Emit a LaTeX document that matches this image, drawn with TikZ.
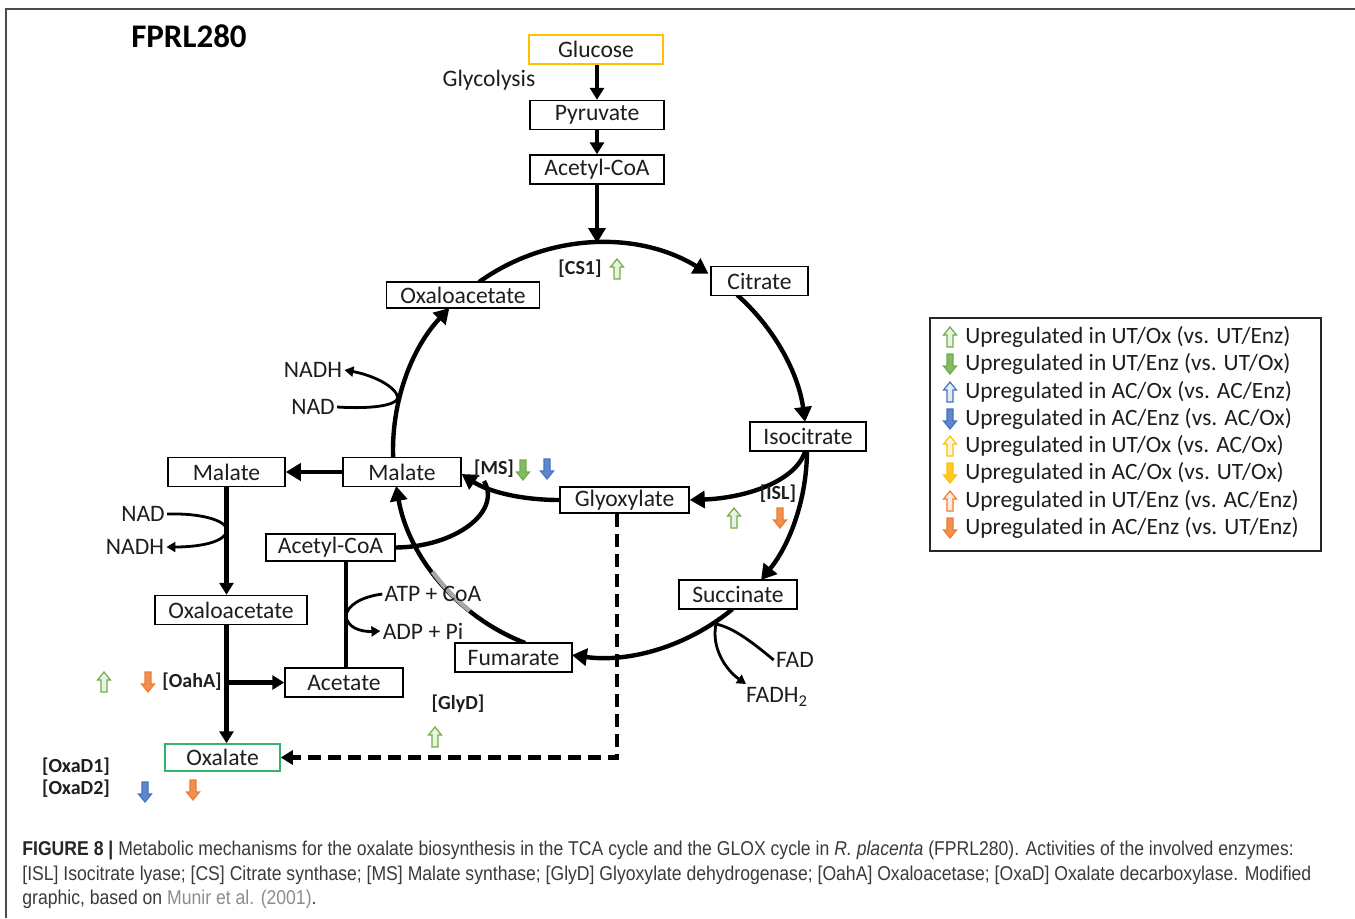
\documentclass[tikz,border=0pt]{standalone}
\usepackage{fontspec}
\setmainfont{Carlito}
\newfontfamily\capfont[FakeStretch=0.88]{Liberation Sans}
\usetikzlibrary{arrows.meta,calc}
\definecolor{ogreen}{HTML}{70AD47}
\definecolor{oblue}{HTML}{4472C4}
\definecolor{ogold}{HTML}{FFC000}
\definecolor{oorange}{HTML}{ED7D31}
\definecolor{oxgreen}{HTML}{33B36B}
\definecolor{txt}{HTML}{1E1E1E}
\definecolor{capgray}{HTML}{3A3A3A}
\definecolor{linkgray}{HTML}{8C8C8C}
\definecolor{framegray}{HTML}{4A4A4A}
\begin{document}
\begin{tikzpicture}[x=0.5pt,y=-0.5pt,
  box/.style={draw=black, line width=0.75pt, fill=white, font=\fontsize{11.8}{13}\selectfont, text=txt, minimum height=14.5pt, inner sep=0pt},
  txtl/.style={font=\fontsize{11.8}{13}\selectfont, text=txt, inner sep=1pt},
  enz/.style={font=\bfseries\fontsize{10}{12}\selectfont, text=txt, inner sep=1pt},
  flow/.style={line width=2.2pt, -{Triangle[length=7.5pt,width=8.5pt]}},
  vflow/.style={line width=2.2pt, -{Triangle[length=6pt,width=7pt]}},
  thick/.style={line width=2.2pt},
  thinflow/.style={line width=1.4pt, -{Triangle[length=4.5pt,width=5pt]}},
  dashflow/.style={line width=2.2pt, dash pattern=on 6.5pt off 3.5pt, -{Triangle[length=6pt,width=7pt]}},
  legtext/.style={font=\fontsize{11.7}{13}\selectfont, text=txt, inner sep=0pt, anchor=west},
  capstyle/.style={font=\capfont\fontsize{10}{12}\selectfont, text=capgray, inner sep=0pt, anchor=base west},
  pics/upar/.style={code={\draw[draw=#1, fill=#1!15, line width=0.6pt] (0,-10)--(6.5,-2)--(3,-2)--(3,10)--(-3,10)--(-3,-2)--(-6.5,-2)--cycle;}},
  pics/dnar/.style={code={\draw[draw=#1, fill=#1!85, line width=0.6pt] (0,10)--(6.5,2)--(3,2)--(3,-10)--(-3,-10)--(-3,2)--(-6.5,2)--cycle;}}
]
\useasboundingbox (0,0) rectangle (1355,918);
% frame
\draw[framegray, line width=1pt] (6,918) -- (6,9) -- (1355,9);

% title
\node[font=\bfseries\fontsize{16.5}{18}\selectfont, text=black] (title) at (189,36) {FPRL280};

% nodes
\node[box, draw=ogold, minimum width=67pt] (glu) at (596,49.5) {Glucose};
\node[box, minimum width=67pt] (pyr) at (597,115) {Pyruvate};
\node[box, minimum width=67pt] (acoA) at (597,169.5) {Acetyl-CoA};
\node[txtl] (glyc) at (489,80) {Glycolysis};
\coordinate (C) at (600,450);
\coordinate (ctop) at (597,243);

% circle arcs
\coordinate (a1) at ($(C)+(234.2:207)$);
\draw[flow] (a1) arc[start angle=234.2, end angle=301.6, radius=207];
\coordinate (a2) at ($(C)+(311.5:207)$);
\draw[flow] (a2) arc[start angle=311.5, end angle=352.2, radius=207];
\coordinate (a3) at ($(C)+(0.3:207)$);
\draw[flow] (a3) arc[start angle=0.3, end angle=38.9, radius=207];
\coordinate (a4) at ($(C)+(50.2:207)$);
\draw[flow] (a4) arc[start angle=50.2, end angle=97.8, radius=207];
\coordinate (a5) at ($(C)+(111.2:207)$);
\draw[flow] (a5) arc[start angle=111.2, end angle=170, radius=207];
\coordinate (a5g) at ($(C)+(129:207)$);
\draw[line width=2.2pt, draw=black!35] (a5g) arc[start angle=129, end angle=144, radius=207];
\coordinate (a6) at ($(C)+(177.8:207)$);
\draw[flow] (a6) arc[start angle=177.8, end angle=223.3, radius=207];

\node[box, minimum width=76.5pt, minimum height=13pt] (oxa) at (463,295) {Oxaloacetate};
\node[box, minimum width=48.5pt] (cit) at (759.5,281) {Citrate};
\node[box, minimum width=58pt] (iso) at (808,436.5) {Isocitrate};
\node[box, minimum width=64.5pt, minimum height=13pt] (glx) at (624.5,500) {Glyoxylate};
\node[box, minimum width=59pt] (suc) at (738,594.5) {Succinate};
\node[box, minimum width=58.5pt] (fum) at (513.5,657.5) {Fumarate};
\node[box, minimum width=59pt] (mal) at (402,472) {Malate};
\node[box, minimum width=58.5pt] (malL) at (226.5,472) {Malate};
\node[box, minimum width=64.5pt, minimum height=13.5pt] (acoB) at (330.5,547.5) {Acetyl-CoA};
\node[box, minimum width=76pt] (oxaL) at (231,610) {Oxaloacetate};
\node[box, minimum width=59pt] (acet) at (344,682.5) {Acetate};
\node[box, draw=oxgreen, minimum width=57.5pt, minimum height=13.5pt] (oxl) at (222.5,757.5) {Oxalate};

% straight connectors
\draw[vflow] (glu.south -| pyr.south) -- (pyr.north);
\draw[vflow] (pyr.south) -- (acoA.north);
\draw[flow] (acoA.south) -- (ctop);
\draw[flow] (mal.west) -- (malL.east);
\draw[vflow] (malL.south) -- (malL.south |- oxaL.north);
\draw[vflow] (malL.south |- oxaL.south) -- (malL.south |- oxl.north);
\draw[vflow] (malL.south |- acet.west) -- (acet.west);
\draw[thick] ($(acet.north |- acoB.south)+(2,0)$) -- ($(acet.north)+(2,0)$);

% curved connectors
\draw[flow] ($(iso.south)+(-3,0)$) .. controls (795,482) and (745,498) .. (glx.east);
\draw[flow] (glx.west) .. controls (520,500) and (487,491) .. ($(mal.east)+(0,2)$);
\draw[thick] (acoB.east) .. controls (455,547) and (502,512) .. (484,481);

% dashed
\coordinate (dcorner) at (617,757.5);
\draw[dashflow] (glx.south -| dcorner) -- (dcorner) -- (oxl.east);

% cofactor labels and branches
\node[txtl] (nad1) at (313,407) {NAD};
\node[txtl] (nadh1) at (313,370) {NADH};
\draw[thinflow] (nad1.east) .. controls (370,409) and (395,406) .. (398,398) .. controls (396,386) and (372,375) .. (nadh1.east);

\node[txtl] (nad2) at (143,514) {NAD};
\node[txtl] (nadh2) at (135,547) {NADH};
\draw[thinflow] (nad2.east) .. controls (200,513) and (226,520) .. (227,530) .. controls (226,542) and (200,547) .. (nadh2.east);

\node[txtl] (atp) at (433,594) {ATP + CoA};
\node[txtl] (adp) at (423,631) {ADP + Pi};
\draw[thinflow] (atp.west) .. controls (360,597) and (347,606) .. (346,616) .. controls (347,627) and (360,632) .. (adp.west);

\node[txtl] (fad) at (795,660) {FAD};
\node[txtl] (fadh) at (777,697) {FADH\textsubscript{2}};
\coordinate (fadtip) at (746,684);
\draw[thinflow] (fad.west) .. controls (752,642) and (734,628) .. (716,624) .. controls (711,648) and (726,670) .. (fadtip);

% enzyme labels
\node[enz] (cs1) at (580,269) {[CS1]};
\pic at (617,269) {upar=ogreen};
\node[enz] (ms) at (494,469) {[MS]};
\pic at (523,470) {dnar=ogreen};
\pic at (547,469) {dnar=oblue};
\node[enz] (isl) at (778,494) {[ISL]};
\pic at (734,518) {upar=ogreen};
\pic at (780,518) {dnar=oorange};
\node[enz] (glyd) at (458,704) {[GlyD]};
\pic at (435,737) {upar=ogreen};
\node[enz] (oaha) at (192,682) {[OahA]};
\pic at (104,682) {upar=ogreen};
\pic at (148,682) {dnar=oorange};
\node[enz] (oxad1) at (76,767) {[OxaD1]};
\node[enz] (oxad2) at (76,789) {[OxaD2]};
\pic at (145,792) {dnar=oblue};
\pic at (193,790) {dnar=oorange};

% legend
\node[draw=black!85, line width=0.7pt, minimum width=195.5pt, minimum height=116.5pt, inner sep=0pt] (leg) at (1125.5,434.5) {};
\pic at (950,337) {upar=ogreen};
\node[legtext] (l1) at (965,337) {Upregulated in UT/Ox (vs. UT/Enz)};
\pic at (950,364) {dnar=ogreen};
\node[legtext] (l2) at (965,364) {Upregulated in UT/Enz (vs. UT/Ox)};
\pic at (950,392) {upar=oblue};
\node[legtext] (l3) at (965,392) {Upregulated in AC/Ox (vs. AC/Enz)};
\pic at (950,419) {dnar=oblue};
\node[legtext] (l4) at (965,419) {Upregulated in AC/Enz (vs. AC/Ox)};
\pic at (950,446) {upar=ogold};
\node[legtext] (l5) at (965,446) {Upregulated in UT/Ox (vs. AC/Ox)};
\pic at (950,473) {dnar=ogold};
\node[legtext] (l6) at (965,473) {Upregulated in AC/Ox (vs. UT/Ox)};
\pic at (950,501) {upar=oorange};
\node[legtext] (l7) at (965,501) {Upregulated in UT/Enz (vs. AC/Enz)};
\pic at (950,528) {dnar=oorange};
\node[legtext] (l8) at (965,528) {Upregulated in AC/Enz (vs. UT/Enz)};

% caption
\node[capstyle] (cap1) at (22,855) {\textbf{\color{black!85}FIGURE 8 |} Metabolic mechanisms for the oxalate biosynthesis in the TCA cycle and the GLOX cycle in \textit{R. placenta} (FPRL280). Activities of the involved enzymes:};
\node[capstyle] (cap2) at (22,880) {[ISL] Isocitrate lyase; [CS] Citrate synthase; [MS] Malate synthase; [GlyD] Glyoxylate dehydrogenase; [OahA] Oxaloacetase; [OxaD] Oxalate decarboxylase. Modified};
\node[capstyle] (cap3) at (22,904) {graphic, based on {\color{linkgray}Munir et al. (2001)}.};
\end{tikzpicture}
\end{document}
